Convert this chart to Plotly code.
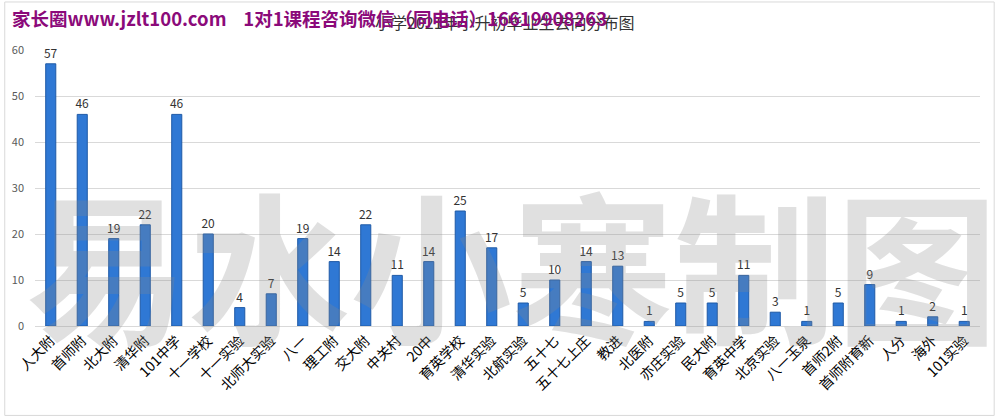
import plotly.graph_objects as go

schools = ["人大附", "首师附", "北大附", "清华附", "101中学", "十一学校", "十一实验", "北师大实验",
           "八一", "理工附", "交大附", "中关村", "20中", "育英学校", "清华实验", "北航实验",
           "五十七", "五十七上庄", "教进", "北医附", "亦庄实验", "民大附", "育英中学", "北京实验",
           "八一玉泉", "首师2附", "首师附育新", "人分", "海外", "101实验"]
counts = [57, 46, 19, 22, 46, 20, 4, 7, 19, 14, 22, 11, 14, 25, 17, 5, 10, 14, 13, 1, 5, 5, 11, 3,
          1, 5, 9, 1, 2, 1]
y_ticks = [0, 10, 20, 30, 40, 50, 60]

title_text = "小学2021年小升初毕业生去向分布图"
stamp_text = "家长圈www.jzlt100.com    1对1课程咨询微信（同电话）16619908263"
bg_mark = "易水小寒制图"

fig = go.Figure()
fig.add_trace(go.Bar(
    x=schools, y=counts,
    marker=dict(color="#2f78d4", line=dict(color="#1f5aa6", width=1)),
    text=[str(v) for v in counts], textposition="outside", cliponaxis=False,
    constraintext="none",
    textfont=dict(family="Noto Sans CJK SC", size=12, color="#333333"),
    width=0.32,
))

fig.update_layout(
    width=996, height=418,
    margin=dict(l=32, r=16, t=50, b=92),
    paper_bgcolor="white", plot_bgcolor="white",
    showlegend=False,
    font=dict(family="Noto Sans CJK SC"),
    xaxis=dict(tickangle=-45, tickfont=dict(family="Noto Sans CJK SC", size=14, color="#000000"),
               showgrid=False, showline=True, linecolor="#d9d9d9", ticks="",
               range=[-0.5, len(schools) - 0.5]),
    yaxis=dict(range=[0, 60], tickvals=y_ticks, tickfont=dict(size=11, color="#595959"),
               showgrid=True, gridcolor="#d9d9d9", zeroline=False, ticks="", ticklabelstandoff=10),
    shapes=[dict(type="rect", xref="paper", yref="paper", x0=-0.032, x1=1.015, y0=-0.324, y1=1.174,
                 line=dict(color="#d9d9d9", width=1))],
)

fig.add_annotation(text="<b>" + bg_mark + "</b>", xref="paper", yref="paper", x=0.505, y=-0.2,
                   xanchor="center", yanchor="bottom", showarrow=False, opacity=0.26,
                   font=dict(family="Noto Sans CJK SC", size=162, color="#8a8a8a"))
fig.add_annotation(text=title_text, xref="paper", yref="paper", x=0.497, y=1.1, xanchor="center",
                   yanchor="middle", showarrow=False,
                   font=dict(family="Noto Sans CJK SC", size=16, color="#333333"))
fig.add_annotation(text="<b>" + stamp_text + "</b>", xref="paper", yref="paper", x=-0.026, y=1.115,
                   xanchor="left", yanchor="middle", showarrow=False,
                   font=dict(family="Noto Sans CJK SC", size=18.5, color="#8b0a7a"))

fig.write_html("out.html")
